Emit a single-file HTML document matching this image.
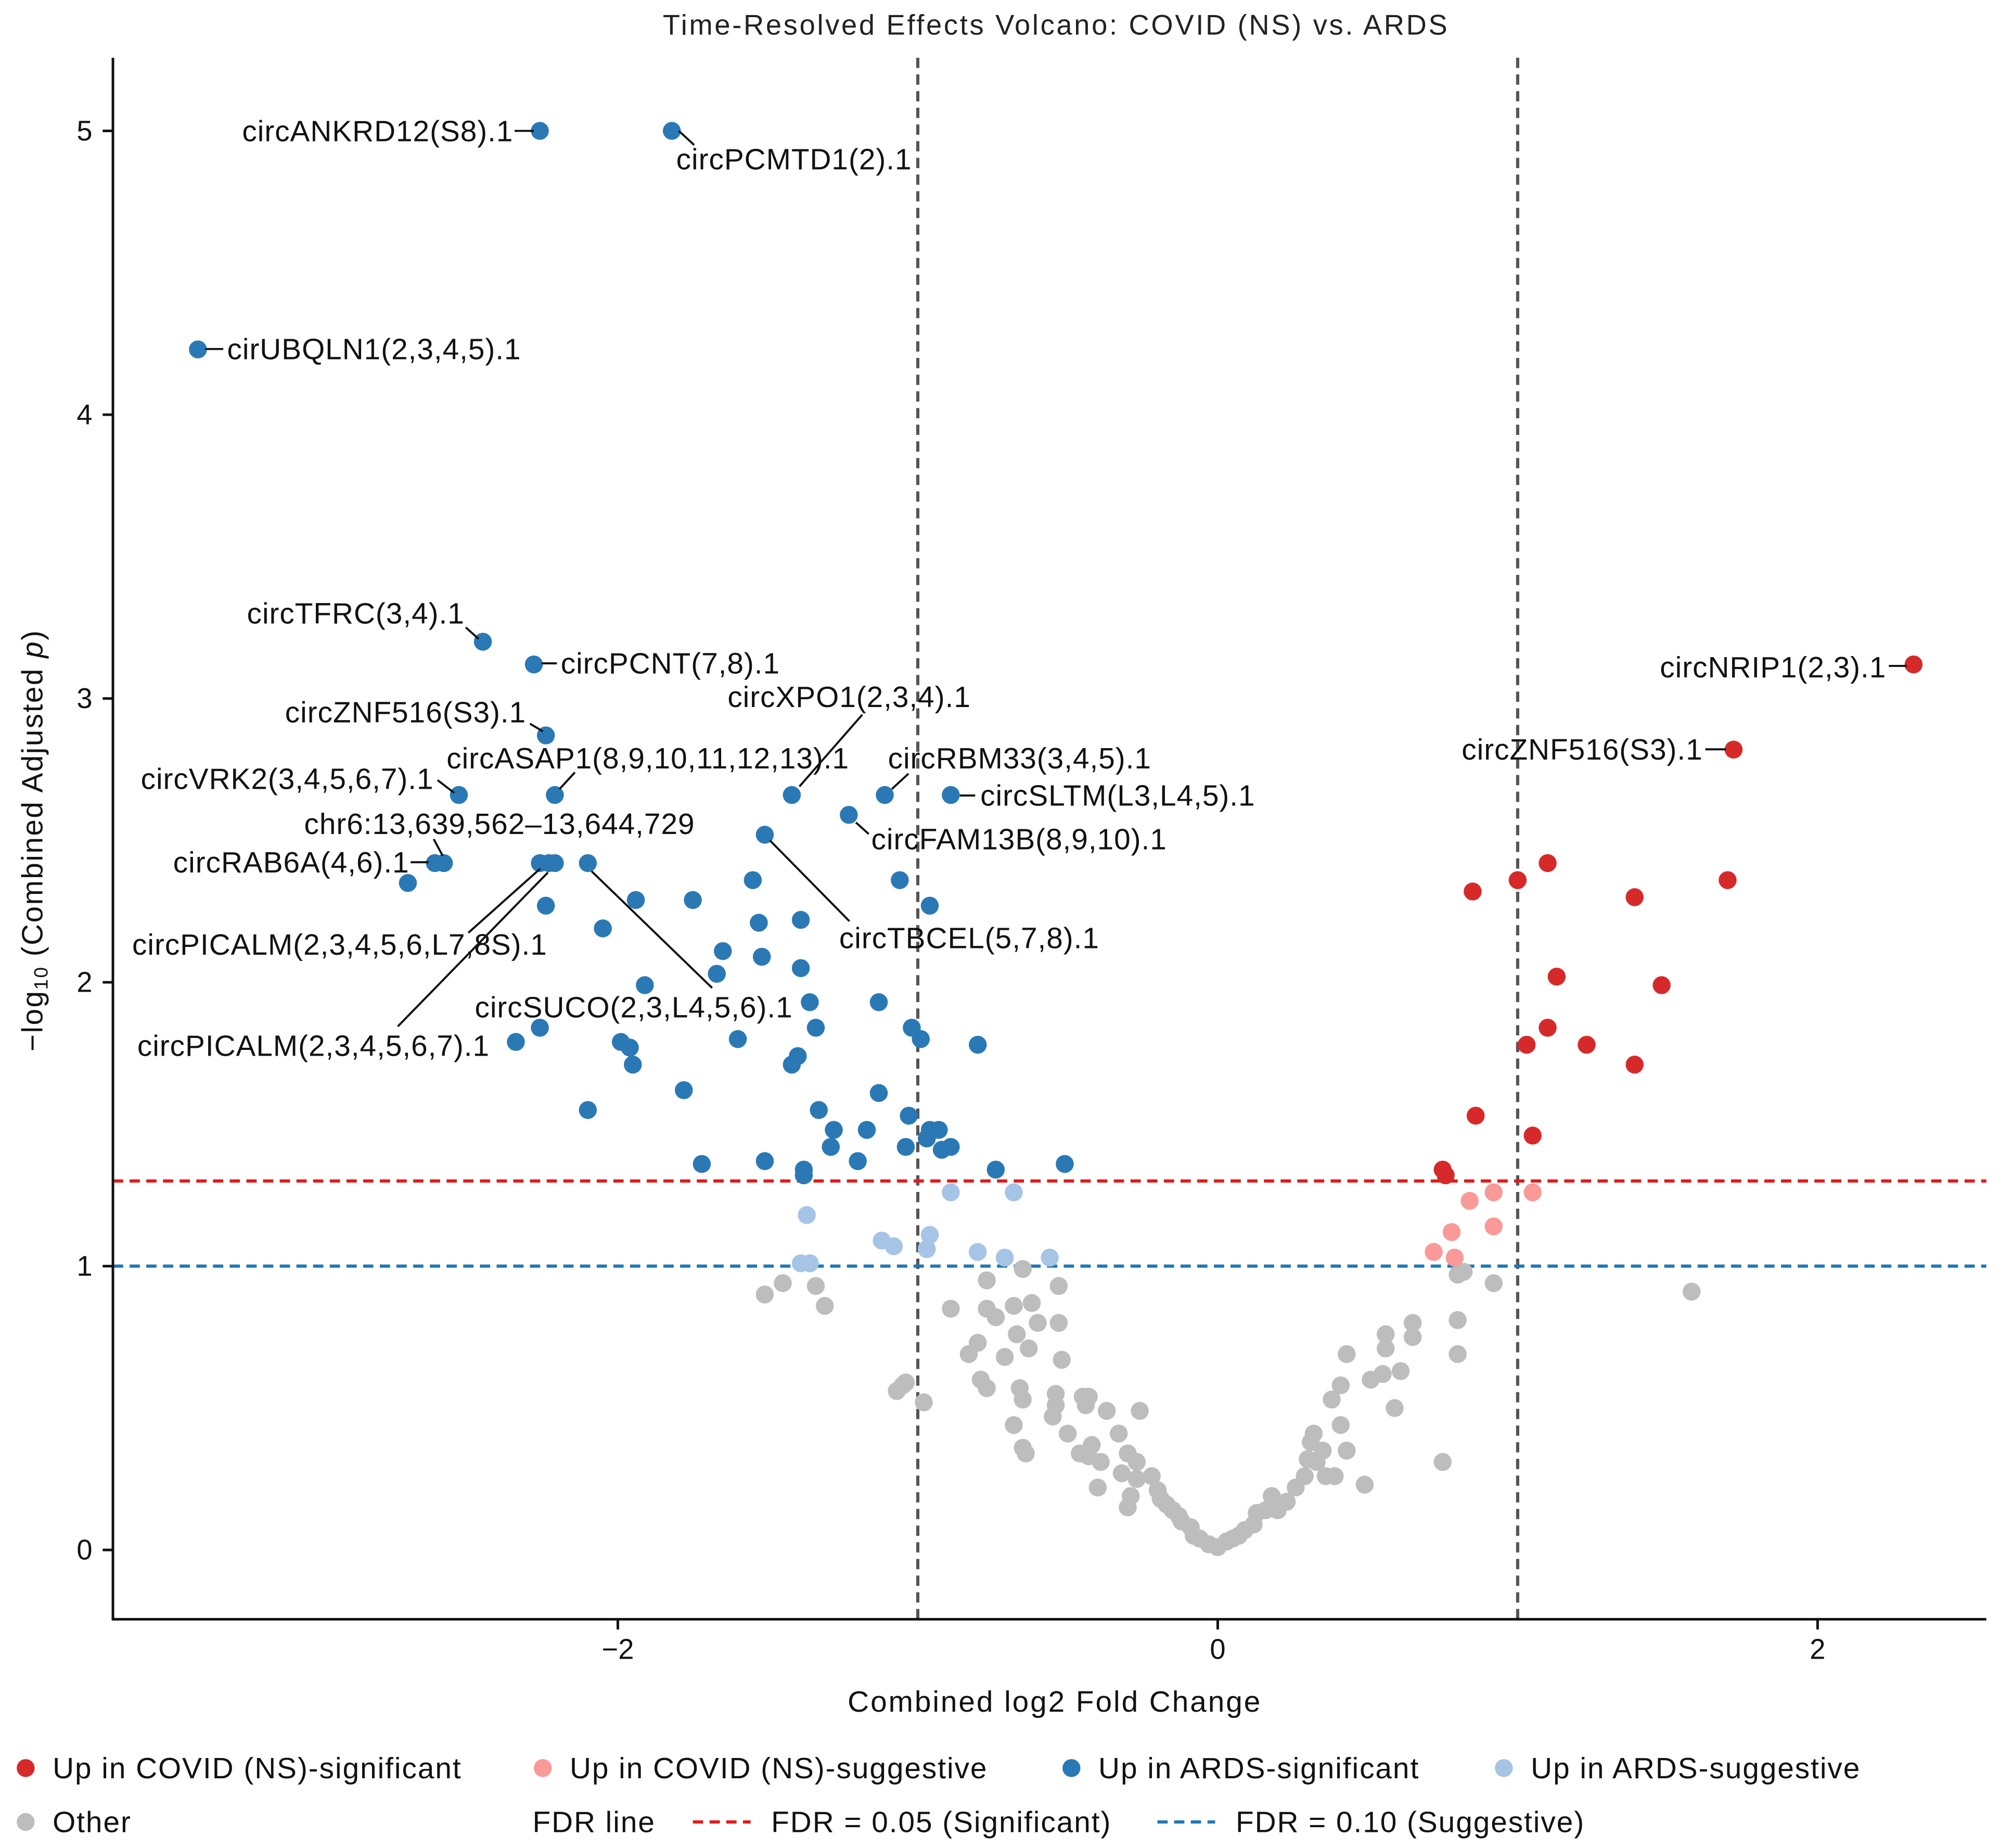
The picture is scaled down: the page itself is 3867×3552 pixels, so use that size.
<!DOCTYPE html>
<html><head><meta charset="utf-8"><style>
html,body{margin:0;padding:0;background:#fff;}
svg{display:block;font-family:"Liberation Sans",sans-serif;}
</style></head><body>
<svg id="chart" width="3867" height="3552" viewBox="0 0 1568 1440.3" preserveAspectRatio="none" xmlns="http://www.w3.org/2000/svg">
<text x="823" y="27" font-size="22" letter-spacing="1.5" text-anchor="middle" fill="#222">Time-Resolved Effects Volcano: COVID (NS) vs. ARDS</text>
<g id="grid"></g>
<g id="marks"></g>
<g id="annots"></g>
<g id="axes"></g>
<g id="legend"></g>
</svg>
<script>
const xTicks=[-2,0,2];
const yTicks=[0,1,2,3,4,5];
const xTickLabels=["−2","0","2"];
const yTickLabels=["0","1","2","3","4","5"];
const fdrSig=1.30, fdrSug=1.0, fcCut=1;
const ardsSigX=[-2.26,-1.82,-3.40,-2.45,-2.28,-2.24,-2.53,-2.21,-1.42,-1.11,-0.89,-1.23,-1.51,-2.61,-2.58,-2.26,-2.23,-2.21,-2.10,-2.70,-1.55,-1.06,-1.94,-1.75,-0.96,-2.24,-1.53,-1.39,-2.05,-1.65,-1.52,-1.67,-1.39,-1.91,-1.13,-1.36,-1.34,-1.02,-0.99,-1.60,-0.80,-1.99,-1.96,-2.34,-2.26,-1.40,-1.42,-1.95,-1.78,-1.13,-2.10,-1.33,-1.03,-1.28,-1.17,-0.96,-0.93,-0.97,-1.29,-1.04,-0.92,-0.89,-1.20,-1.51,-1.72,-1.38,-1.38,-0.74,-0.51];
const ardsSigY=[5.0,5.0,4.23,3.20,3.12,2.87,2.66,2.66,2.66,2.66,2.66,2.59,2.52,2.42,2.42,2.42,2.42,2.42,2.42,2.35,2.36,2.36,2.29,2.29,2.27,2.27,2.21,2.22,2.19,2.11,2.09,2.03,2.05,1.99,1.93,1.93,1.84,1.84,1.80,1.80,1.78,1.79,1.77,1.79,1.84,1.74,1.71,1.71,1.62,1.61,1.55,1.55,1.53,1.48,1.48,1.48,1.48,1.45,1.42,1.42,1.41,1.42,1.37,1.37,1.36,1.34,1.32,1.34,1.36];
const ardsSugX=[-0.89,-0.68,-1.37,-0.96,-1.12,-1.08,-0.97,-0.80,-0.71,-0.56,-1.39,-1.36];
const ardsSugY=[1.26,1.26,1.18,1.11,1.09,1.07,1.06,1.05,1.03,1.03,1.01,1.01];
const covSigX=[2.32,1.72,1.10,1.00,0.85,1.70,1.39,1.13,1.48,1.10,1.23,1.03,1.39,0.86,1.05,0.75,0.76];
const covSigY=[3.12,2.82,2.42,2.36,2.32,2.36,2.30,2.02,1.99,1.84,1.78,1.78,1.71,1.53,1.46,1.34,1.32];
const covSugX=[1.05,0.92,0.84,0.78,0.92,0.72,0.79];
const covSugY=[1.26,1.26,1.23,1.12,1.14,1.05,1.03];
const otherX=[-1.51,-1.45,-1.34,-1.31,-1.05,-1.04,-1.07,-0.98,-0.89,-0.77,-0.77,-0.65,-0.53,-0.62,-0.68,-0.74,-0.67,-0.60,-0.53,-0.52,-0.83,-0.80,-0.71,-0.63,-0.79,-0.77,-0.66,-0.65,-0.54,-0.55,-0.68,-0.65,-0.64,-0.54,-0.50,-0.46,-0.43,-0.44,-0.42,-0.39,-0.40,-0.45,-0.43,-0.37,-0.33,-0.30,-0.26,-0.32,-0.29,-0.30,-0.27,-0.27,-0.22,-0.20,-0.19,-0.17,-0.15,-0.13,-0.12,-0.09,-0.08,-0.06,-0.03,0.00,0.03,0.05,0.07,0.09,0.12,0.13,0.16,0.18,0.20,0.23,0.26,0.29,0.30,0.33,0.35,0.31,0.32,0.36,0.39,0.43,0.41,0.49,0.38,0.43,0.41,0.51,0.55,0.56,0.59,0.61,0.65,0.65,0.56,0.75,0.80,0.80,0.80,0.82,0.92,1.58];
const otherY=[0.90,0.94,0.93,0.86,0.58,0.59,0.56,0.52,0.85,0.95,0.85,0.99,0.93,0.87,0.86,0.82,0.76,0.80,0.80,0.67,0.69,0.73,0.68,0.71,0.60,0.57,0.57,0.53,0.55,0.47,0.44,0.36,0.34,0.51,0.41,0.34,0.33,0.51,0.37,0.31,0.22,0.54,0.54,0.49,0.41,0.34,0.49,0.27,0.19,0.15,0.31,0.25,0.26,0.21,0.18,0.16,0.14,0.12,0.10,0.08,0.05,0.04,0.02,0.01,0.03,0.04,0.05,0.07,0.09,0.13,0.14,0.19,0.14,0.17,0.22,0.26,0.32,0.31,0.35,0.38,0.41,0.26,0.26,0.35,0.44,0.23,0.53,0.69,0.58,0.60,0.62,0.76,0.50,0.63,0.80,0.75,0.71,0.31,0.81,0.97,0.69,0.98,0.94,0.91];

const L=88,R=1548,T=45,B=1262;
const xs=v=>949+v*233.75;
const ys=v=>1208-v*221.2;
const NS="http://www.w3.org/2000/svg";
function mk(tag,parent,attrs){const e=document.createElementNS(NS,tag);for(const k in attrs)e.setAttribute(k,attrs[k]);parent.appendChild(e);return e;}
const grid=document.getElementById('grid'),marks=document.getElementById('marks'),annots=document.getElementById('annots'),axes=document.getElementById('axes'),legend=document.getElementById('legend');

let ln=mk('line',grid,{x1:xs(-fcCut),x2:xs(-fcCut),y1:T,y2:B,stroke:'#555',"stroke-width":2.5,"stroke-dasharray":"8,5"});


ln=mk('line',grid,{x1:xs(fcCut),x2:xs(fcCut),y1:T,y2:B,stroke:'#555',"stroke-width":2.5,"stroke-dasharray":"8,5"});


ln=mk('line',grid,{x1:L,x2:R,y1:ys(fdrSig),y2:ys(fdrSig),stroke:'#e31a1c',"stroke-width":2.5,"stroke-dasharray":"8,5"});


ln=mk('line',grid,{x1:L,x2:R,y1:ys(fdrSug),y2:ys(fdrSug),stroke:'#1f78b4',"stroke-width":2.5,"stroke-dasharray":"8,5"});



function series(X,Y,color,name){
  for(let i=0;i<X.length;i++){
    const c=mk('circle',marks,{cx:xs(X[i]),cy:ys(Y[i]),r:7,fill:color});
    
    
  }
}
series(otherX,otherY,'#bdbdbd','other');
series(ardsSugX,ardsSugY,'#a6c4e6','ards-suggestive');
series(covSugX,covSugY,'#f99a98','covid-suggestive');
series(ardsSigX,ardsSigY,'#2a79b5','ards-significant');
series(covSigX,covSigY,'#d62a2a','covid-significant');

const ann=[
["circANKRD12(S8).1",400,102,"end",401,102,416,102],
["circPCMTD1(2).1",527,124,"start",529,102,541,113],
["cirUBQLN1(2,3,4,5).1",177,272,"start",160,272,174,272],
["circTFRC(3,4).1",362,478,"end",363,489,373,498],
["circPCNT(7,8).1",437,517,"start",422,517,434,517],
["circZNF516(S3).1",410,555,"end",413,564,423,570],
["circVRK2(3,4,5,6,7).1",338,607,"end",341,608,354,618],
["circASAP1(8,9,10,11,12,13).1",348,591,"start",448,602,436,615],
["chr6:13,639,562–13,644,729",237,642,"start",338,654,345,667],
["circRAB6A(4,6).1",319,672,"end",320,672,334,672],
["circPICALM(2,3,4,5,6,L7,8S).1",103,736,"start",365,727,421,677],
["circPICALM(2,3,4,5,6,7).1",107,815,"start",310,800,427,680],
["circSUCO(2,3,L4,5,6).1",370,785,"start",555,770,461,679],
["circXPO1(2,3,4).1",567,543,"start",672,557,623,613],
["circRBM33(3,4,5).1",692,591,"start",708,603,695,615],
["circSLTM(L3,L4,5).1",764,620,"start",748,620,760,620],
["circFAM13B(8,9,10).1",679,654,"start",667,641,677,650],
["circTBCEL(5,7,8).1",654,731,"start",600,655,662,718],
["circNRIP1(2,3).1",1470,520,"end",1472,519,1486,519],
["circZNF516(S3).1",1327,584,"end",1329,584,1345,584]
];
ann.forEach(a=>{
  const t=mk('text',annots,{x:a[1],y:a[2]+8,"font-size":23,"letter-spacing":0.4,"text-anchor":a[3],fill:'#111'});
  t.textContent=a[0];
  
  
  const l=mk('line',annots,{x1:a[4],y1:a[5],x2:a[6],y2:a[7],stroke:'#111',"stroke-width":1.6});
  
  
});

let sp=mk('line',axes,{x1:L,x2:L,y1:T,y2:B,stroke:'#111',"stroke-width":2});


sp=mk('line',axes,{x1:L-1,x2:R,y1:B,y2:B,stroke:'#111',"stroke-width":2});


xTicks.forEach((v,i)=>{
  const tk=mk('line',axes,{x1:xs(v),x2:xs(v),y1:B,y2:B+8,stroke:'#111',"stroke-width":2});
  
  
  const t=mk('text',axes,{x:xs(v),y:B+31,"font-size":22,"text-anchor":"middle",fill:'#111'});
  t.textContent=xTickLabels[i];
  
  
});
yTicks.forEach((v,i)=>{
  const tk=mk('line',axes,{x1:L-8,x2:L,y1:ys(v),y2:ys(v),stroke:'#111',"stroke-width":2});
  
  
  const t=mk('text',axes,{x:L-16,y:ys(v)+7.5,"font-size":22,"text-anchor":"end",fill:'#111'});
  t.textContent=yTickLabels[i];
  
  
});
let xt=mk('text',axes,{x:822,y:1334,"font-size":23,"letter-spacing":1.2,"text-anchor":"middle",fill:'#111'});
xt.textContent="Combined log2 Fold Change";


let yt=mk('text',axes,{x:0,y:0,"font-size":23,"letter-spacing":1.0,"text-anchor":"middle",fill:'#111',transform:'translate(33,655) rotate(-90)'});
yt.innerHTML='−log<tspan font-size="15" dy="4">10</tspan><tspan dy="-4"> (Combined Adjusted </tspan><tspan font-style="italic">p</tspan>)';



const legItems=[[20,1378,'#d62a2a','Up in COVID (NS)-significant'],[423,1378,'#f99a98','Up in COVID (NS)-suggestive'],[835,1378,'#2a79b5','Up in ARDS-significant'],[1172,1378,'#a6c4e6','Up in ARDS-suggestive'],[20,1420,'#bdbdbd','Other']];
legItems.forEach(it=>{
  const c=mk('circle',legend,{cx:it[0],cy:it[1],r:7,fill:it[2]});
  
  
  const t=mk('text',legend,{x:it[0]+21,y:it[1]+8,"font-size":23,"letter-spacing":0.8,fill:'#111'});
  t.textContent=it[3];
  
  
});
let ft=mk('text',legend,{x:415,y:1428,"font-size":23,"letter-spacing":0.8,fill:'#111'});
ft.textContent="FDR line";


[[540,'#e31a1c','FDR = 0.05 (Significant)'],[902,'#1f78b4','FDR = 0.10 (Suggestive)']].forEach(it=>{
  const l=mk('line',legend,{x1:it[0],x2:it[0]+45,y1:1420,y2:1420,stroke:it[1],"stroke-width":2.5,"stroke-dasharray":"8,5"});
  
  
  const t=mk('text',legend,{x:it[0]+61,y:1428,"font-size":23,"letter-spacing":0.8,fill:'#111'});
  t.textContent=it[2];
  
  
});
</script>
</body></html>
